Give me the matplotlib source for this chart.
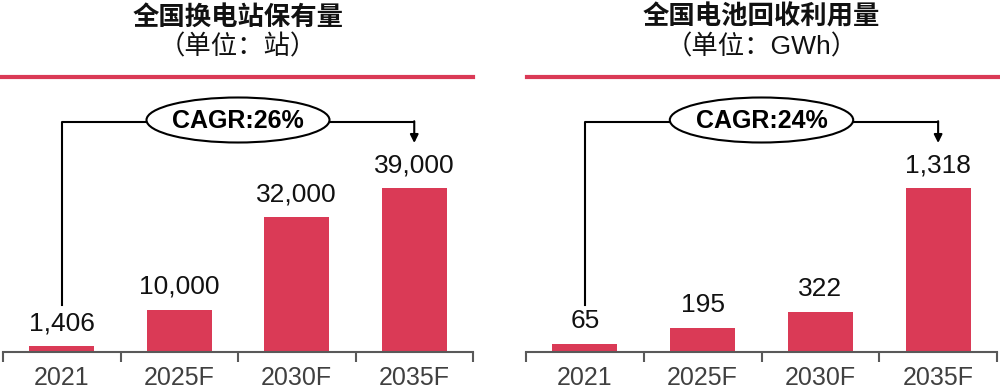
import matplotlib
matplotlib.use("Agg")
import matplotlib.pyplot as plt
import matplotlib.transforms as mtransforms
from matplotlib.patches import Ellipse
from matplotlib.lines import Line2D

# data
categories = ["2021", "2025F", "2030F", "2035F"]
stations = [1406, 10000, 32000, 39000]
recycling = [65, 195, 322, 1318]
titles = ["全国换电站保有量", "全国电池回收利用量"]
units = ["（单位：站）", "（单位：GWh）"]
cagr_labels = ["CAGR:26%", "CAGR:24%"]

BAR_COLOR = "#DA3A56"
GRAY = "#404040"
CJK = ["Noto Sans CJK SC", "DejaVu Sans"]
LATIN = ["Liberation Sans", "DejaVu Sans"]
MIXED = ["Liberation Sans", "Noto Sans CJK SC"]

W, H = 1000, 392
fig = plt.figure(figsize=(W / 100, H / 100), dpi=100)

# axes placed in pixel units: (left, right)
panels = [(3, 473), (526, 997)]
ax_bottom, ax_top = 352, 92
bar_px = 164  # pixel height of the tallest bar


def px_rect(x0, x1):
    return [x0 / W, (H - ax_bottom) / H, (x1 - x0) / W, (ax_bottom - ax_top) / H]


def frac(py):
    # pixel row (from top) -> axes fraction
    return (ax_bottom - py) / (ax_bottom - ax_top)


def draw_panel(ax, values, title, unit, cagr):
    x = list(range(len(values)))
    vmax = max(values)
    ax.bar(x, values, width=0.55, color=BAR_COLOR, zorder=2)
    ax.set_xlim(-0.5, len(values) - 0.5)
    ax.set_ylim(0, vmax * (ax_bottom - ax_top) / bar_px)

    for xi, v in zip(x, values):
        ax.annotate(f"{v:,}", (xi, v), xytext=(0, 11), textcoords="offset pixels",
                    ha="center", va="bottom", fontsize=19, family=LATIN, color="#111111")

    for s in ["top", "left", "right"]:
        ax.spines[s].set_visible(False)
    ax.spines["bottom"].set_color("#595959")
    ax.spines["bottom"].set_linewidth(1.5)
    ax.yaxis.set_visible(False)
    ax.set_xticks(x)
    ax.set_xticklabels(categories, fontsize=18, family=LATIN, color=GRAY)
    ax.set_xticks([i - 0.5 for i in range(len(values) + 1)], minor=True)
    ax.tick_params(axis="x", which="major", length=0, pad=10)
    ax.tick_params(axis="x", which="minor", length=7.5, width=1.5, color="#595959")

    # CAGR bracket
    tr = mtransforms.blended_transform_factory(ax.transData, ax.transAxes)
    yb = frac(122)
    ax.plot([x[0], x[0], x[-1]], [frac(305), yb, yb], color="black", lw=1.5,
            transform=tr, clip_on=False, zorder=3)
    ax.annotate("", xy=(x[-1], frac(143)), xycoords=tr, xytext=(x[-1], yb + 0.003),
                textcoords=tr,
                arrowprops=dict(arrowstyle="-|>", color="black", lw=1.5,
                                mutation_scale=12, shrinkA=0, shrinkB=0))
    ell = Ellipse((0.5, frac(120)), 183 / 470, 45 / (ax_bottom - ax_top),
                  transform=ax.transAxes, facecolor="white", edgecolor="black",
                  lw=1.5, zorder=4, clip_on=False)
    ax.add_patch(ell)
    ax.text(0.5, frac(121), cagr, transform=ax.transAxes, ha="center", va="center",
            fontsize=18, fontweight="bold", family=LATIN, zorder=5)

    # titles
    cx = (ax.get_position().x0 + ax.get_position().x1) / 2
    fig.text(cx, (H - 17) / H, title, ha="center", va="center", fontsize=19,
             family=CJK, fontweight="bold", color="#111111")
    fig.text(cx, (H - 47) / H, unit, ha="center", va="center", fontsize=19,
             family=MIXED, color="#111111")


for (x0, x1), vals, t, u, c in zip(panels, [stations, recycling], titles, units, cagr_labels):
    ax = fig.add_axes(px_rect(x0, x1))
    draw_panel(ax, vals, t, u, c)

# red separator lines under the titles
yl = (H - 77) / H
fig.add_artist(Line2D([0, 473 / W], [yl, yl], color=BAR_COLOR, lw=3, transform=fig.transFigure))
fig.add_artist(Line2D([527 / W, 1], [yl, yl], color=BAR_COLOR, lw=3, transform=fig.transFigure))

fig.savefig("out.png", dpi=100)
